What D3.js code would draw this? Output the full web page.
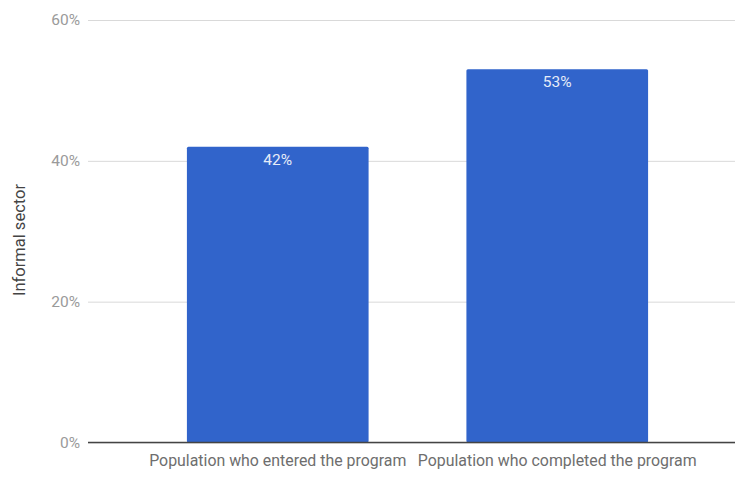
<!DOCTYPE html>
<html>
<head>
<meta charset="utf-8">
<script src="https://cdn.jsdelivr.net/npm/d3@7"></script>
<style>
  html, body { margin: 0; padding: 0; background: #fff; }
  svg { display: block; font-family: Roboto, "Noto Sans", Arial, sans-serif; }
</style>
</head>
<body>
<svg id="chart" width="735" height="477"></svg>
<script>
// Share of participants working in the informal sector
const categories = ["Population who entered the program", "Population who completed the program"];
const values = [42, 53];
const yTicks = [0, 20, 40, 60];
const yTitle = "Informal sector";

const svg = d3.select("#chart");
const plotLeft = 88, plotRight = 735, plotTop = 20, plotBottom = 442.5;

const x = d3.scaleBand()
  .domain(categories)
  .range([138, 697])
  .paddingInner(0.35)
  .paddingOuter(0.175);

const y = d3.scaleLinear().domain([0, 60]).range([plotBottom, plotTop]);

// Gridlines and y tick labels
const yAxis = d3.axisLeft(y)
  .tickValues(yTicks)
  .tickSize(-(plotRight - plotLeft))
  .tickPadding(8)
  .tickFormat(d => d + "%");

const gy = svg.append("g")
  .attr("transform", `translate(${plotLeft},0)`)
  .call(yAxis);
gy.select(".domain").remove();
gy.selectAll(".tick line").attr("stroke", "#d9d9d9").attr("stroke-width", 1);
gy.selectAll(".tick text")
  .attr("fill", "#9a9a9a")
  .style("font-size", "15.5px")
  .style("font-family", "Roboto, 'Noto Sans', Arial, sans-serif");

// Bars
svg.append("g").selectAll("rect")
  .data(values)
  .join("rect")
  .attr("x", (d, i) => x(categories[i]))
  .attr("y", d => y(d))
  .attr("width", x.bandwidth())
  .attr("height", d => plotBottom - y(d))
  .attr("rx", 1.5)
  .attr("fill", "#3164cb");

// Value labels inside bars
svg.append("g").selectAll("text")
  .data(values)
  .join("text")
  .attr("x", (d, i) => x(categories[i]) + x.bandwidth() / 2)
  .attr("y", d => y(d) + 18)
  .attr("text-anchor", "middle")
  .attr("fill", "#e6ecf8")
  .style("font-size", "15.5px")
  .text(d => d + "%");

// Baseline
svg.append("line")
  .attr("x1", plotLeft).attr("x2", plotRight)
  .attr("y1", y(0)).attr("y2", y(0))
  .attr("stroke", "#444").attr("stroke-width", 1.5);

// Category labels
const xAxis = d3.axisBottom(x).tickSize(0).tickPadding(12);
const gx = svg.append("g")
  .attr("transform", `translate(0,${plotBottom})`)
  .call(xAxis);
gx.select(".domain").remove();
gx.selectAll(".tick text")
  .attr("fill", "#6e6e6e")
  .style("font-size", "15.9px")
  .style("font-family", "Roboto, 'Noto Sans', Arial, sans-serif");

// Y-axis title
svg.append("text")
  .attr("transform", `translate(25,240) rotate(-90)`)
  .attr("text-anchor", "middle")
  .attr("fill", "#444")
  .style("font-size", "16.5px")
  .text(yTitle);
</script>
</body>
</html>
